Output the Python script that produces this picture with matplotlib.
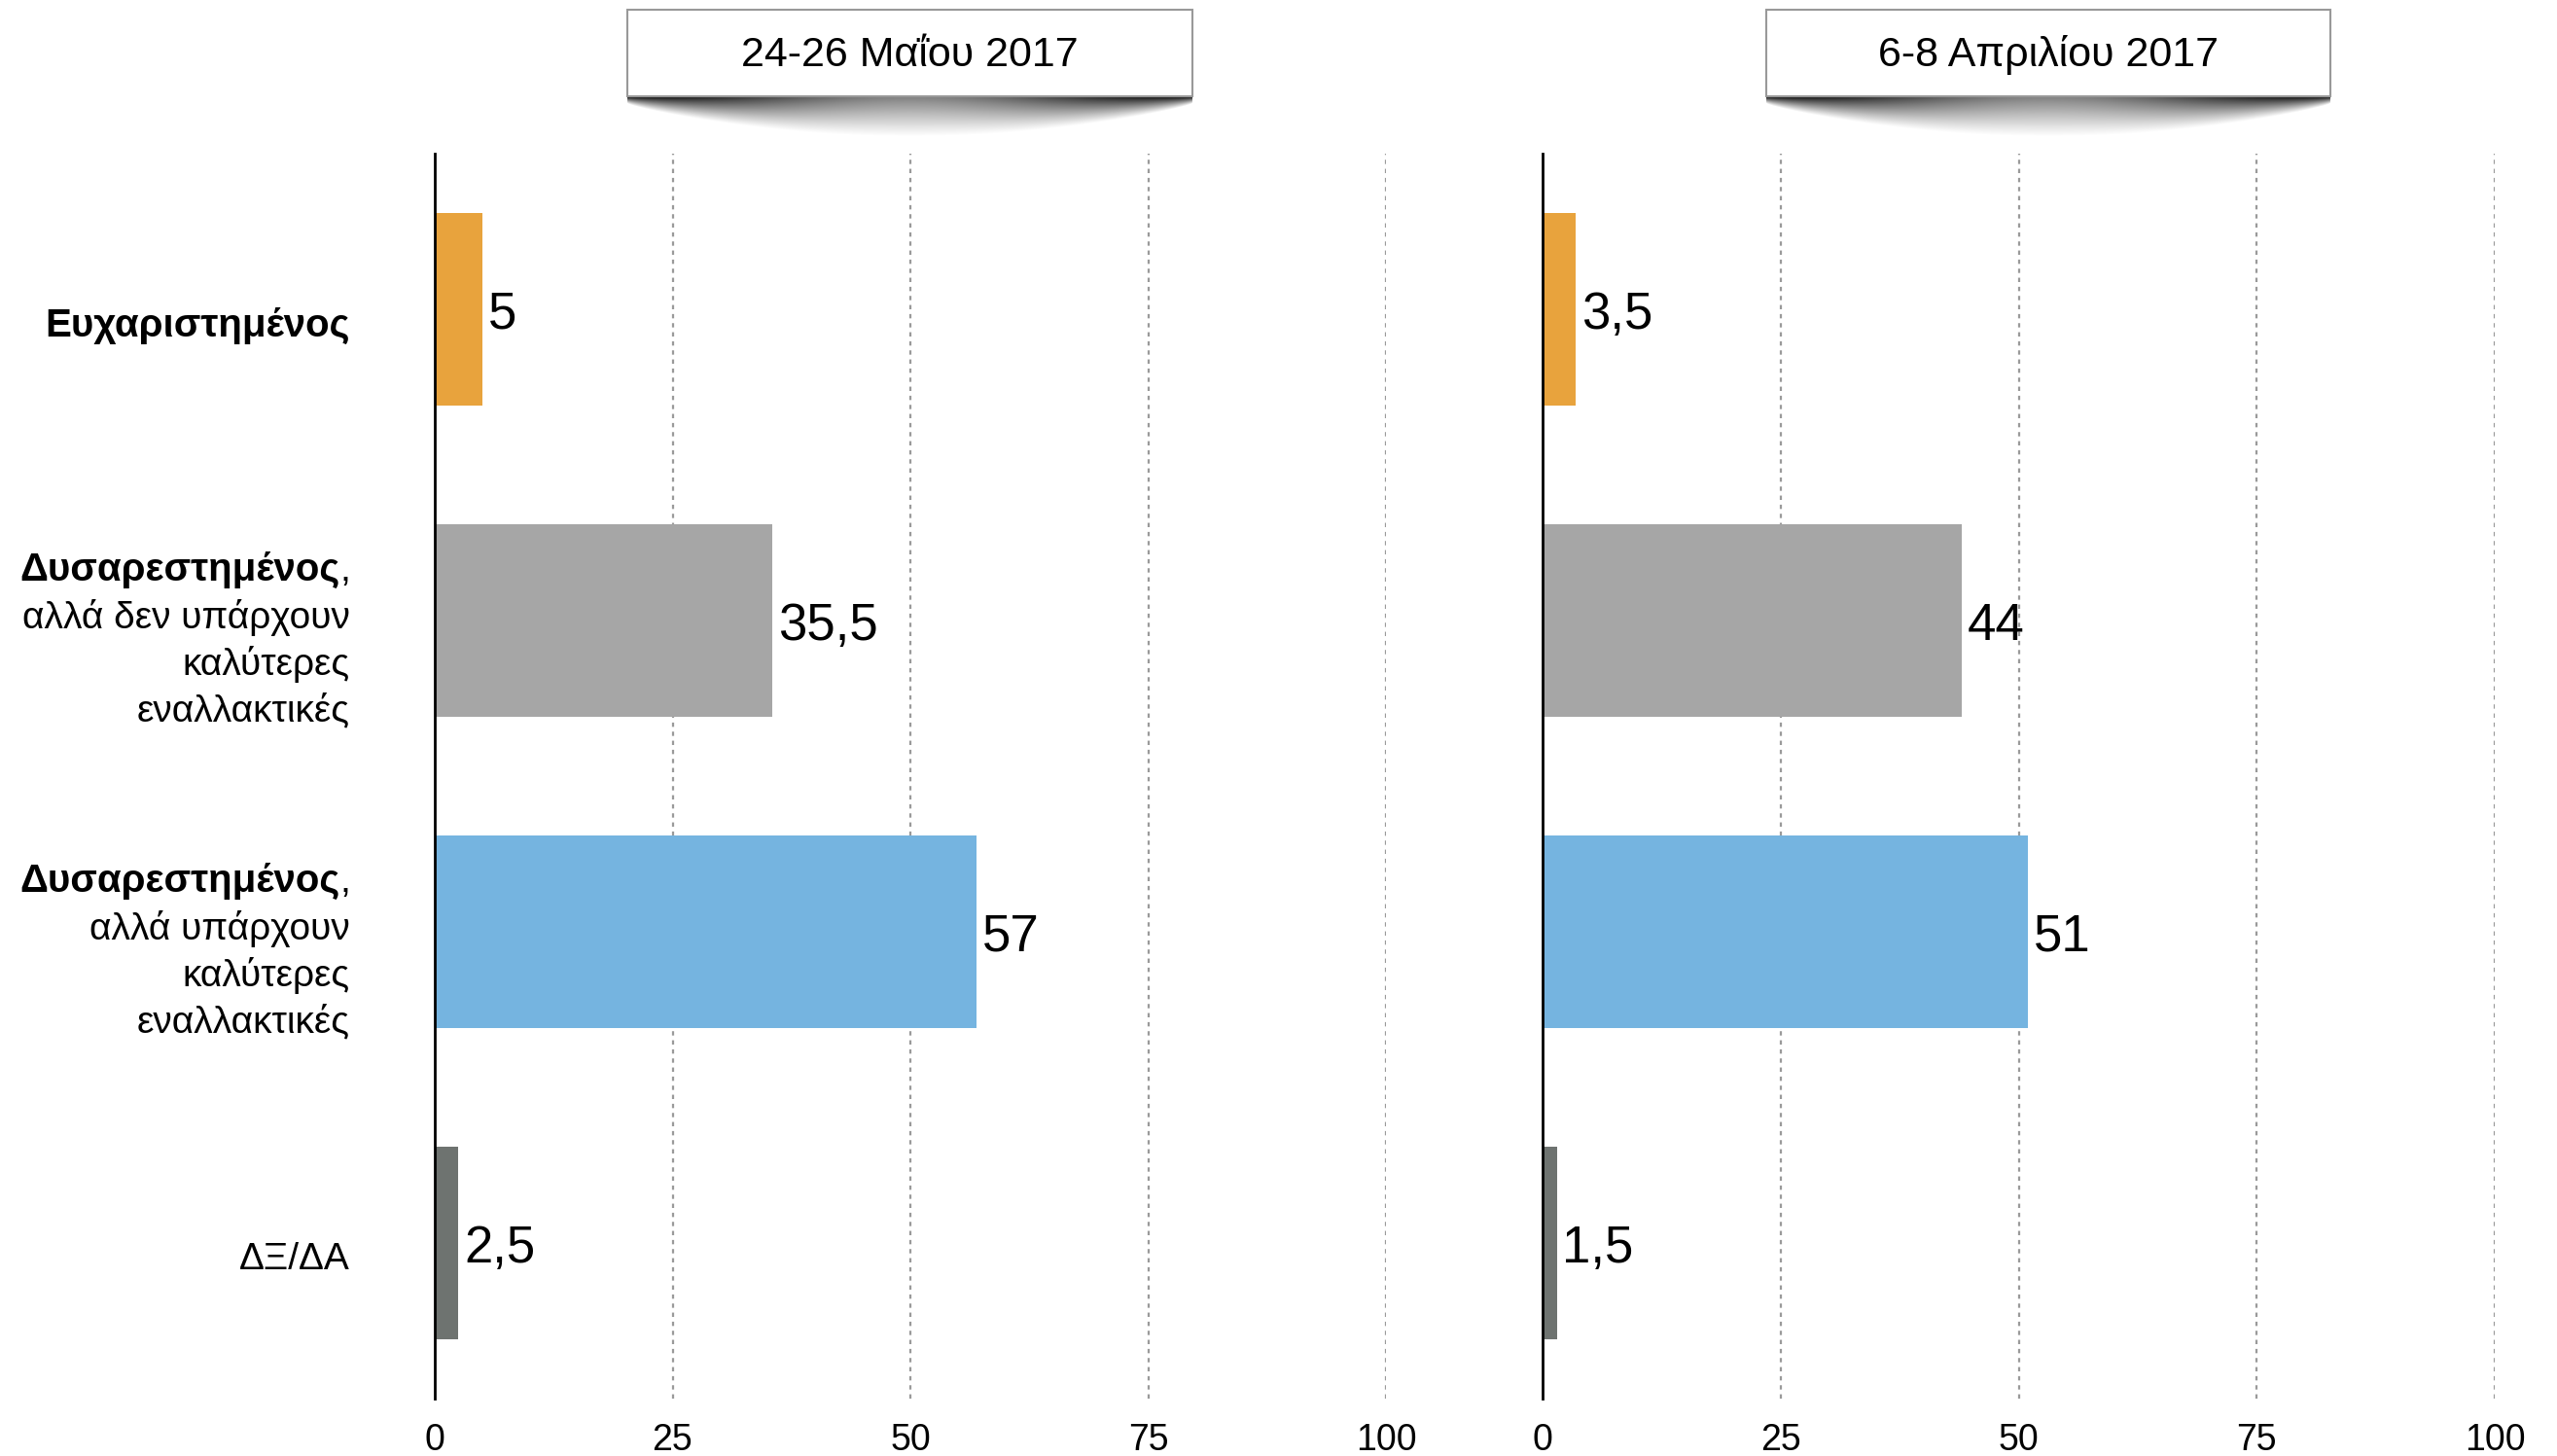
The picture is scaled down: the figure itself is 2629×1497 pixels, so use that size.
import numpy as np
import matplotlib
matplotlib.use("Agg")
import matplotlib.pyplot as plt
from matplotlib.patches import Rectangle

plt.rcParams['font.family'] = ['Liberation Sans', 'DejaVu Sans']

# data
bold_labels = ["Ευχαριστημένος", "Δυσαρεστημένος", "Δυσαρεστημένος", ""]
rest_labels = [[],
               ["αλλά δεν υπάρχουν", "καλύτερες", "εναλλακτικές"],
               ["αλλά υπάρχουν", "καλύτερες", "εναλλακτικές"],
               ["ΔΞ/ΔΑ"]]
may_2017 = [5, 35.5, 57, 2.5]
apr_2017 = [3.5, 44, 51, 1.5]
titles = ["24-26 Μαΐου 2017", "6-8 Απριλίου 2017"]
xticks = [0, 25, 50, 75, 100]
bar_colors = ["#E8A33D", "#A6A6A6", "#75B4E0", "#6E7370"]

W, H = 2629, 1497
fig = plt.figure(figsize=(W / 100, H / 100), dpi=100)
PT = 0.72  # points per pixel at dpi 100


def fmt(v):
    return f"{v:g}".replace('.', ',')


def panel(rect, values):
    ax = fig.add_axes(rect)
    y = np.arange(len(values))
    ax.barh(y, values, height=0.62, color=bar_colors, zorder=2)
    ax.set_xlim(0, 100)
    ax.set_ylim(len(values) - 0.5, -0.5)
    for x in xticks[1:]:
        ax.axvline(x, color='#9a9a9a', lw=1.6, ls=(0, (2, 2.2)), zorder=1)
    for s in ['top', 'right', 'bottom']:
        ax.spines[s].set_visible(False)
    ax.spines['left'].set_linewidth(2)
    ax.spines['left'].set_zorder(3)
    ax.set_yticks([])
    ax.set_xticks(xticks)
    ax.tick_params(axis='x', length=0, labelsize=27, pad=18)
    for i, v in enumerate(values):
        ax.annotate(fmt(v), xy=(v, i), xytext=(4, -4), textcoords='offset points',
                    ha='left', va='center', fontsize=38)
    return ax


ax1 = panel([447 / W, 59 / H, 978 / W, 1280 / H], may_2017)
ax2 = panel([1586 / W, 59 / H, 979 / W, 1280 / H], apr_2017)

# category labels, right aligned left of first panel
line_h = 48
for i in range(len(bold_labels)):
    lines = ([bold_labels[i]] if bold_labels[i] else []) + rest_labels[i]
    n = len(lines)
    shift = 17 if n == 1 else 21
    for k, line in enumerate(lines):
        dy = -((k - (n - 1) / 2) * line_h + shift) * PT
        if k == 0 and bold_labels[i]:
            if rest_labels[i]:
                comma = ax1.annotate(",", xy=(0, i), xycoords=('axes fraction', 'data'),
                                     xytext=(-87 * PT, dy), textcoords='offset points',
                                     ha='right', va='center', fontsize=28)
                ax1.annotate(line, xy=(0, 0), xycoords=comma, ha='right', va='bottom',
                             fontsize=29, fontweight='bold')
            else:
                ax1.annotate(line, xy=(0, i), xycoords=('axes fraction', 'data'),
                             xytext=(-87 * PT, dy), textcoords='offset points',
                             ha='right', va='center', fontsize=29, fontweight='bold')
        else:
            ax1.annotate(line, xy=(0, i), xycoords=('axes fraction', 'data'),
                         xytext=(-87 * PT, dy), textcoords='offset points',
                         ha='right', va='center', fontsize=28)

# title boxes with curved drop shadow
ov = fig.add_axes([0, 0, 1, 1])
ov.set_xlim(0, W)
ov.set_ylim(H, 0)
ov.axis('off')

boxes = [(645, 1226), (1816, 2396)]
top, bot = 10, 99
for (x0, x1), title in zip(boxes, titles):
    bw = x1 - x0
    t = np.linspace(0, 1, bw)
    depth = 7 + 34 * np.sin(np.pi * t) ** 0.8
    inten = 0.95 - 0.45 * np.sin(np.pi * t) ** 2
    v = np.arange(48)[:, None]
    a = np.clip(1 - v / depth[None, :], 0, 1) ** 1.1 * inten[None, :]
    img = np.zeros((48, bw, 4))
    img[..., 3] = a
    ov.imshow(img, extent=(x0, x1, bot + 48, bot), aspect='auto', zorder=1,
              interpolation='bilinear')
    ov.add_patch(Rectangle((x0, top), bw, bot - top, facecolor='white',
                           edgecolor='#999999', lw=1.5, zorder=2))
    ov.text((x0 + x1) / 2, (top + bot) / 2 + 2, title, ha='center', va='center',
            fontsize=31, zorder=3)
ov.set_xlim(0, W)
ov.set_ylim(H, 0)

fig.savefig("out.png", dpi=100, facecolor='white')
